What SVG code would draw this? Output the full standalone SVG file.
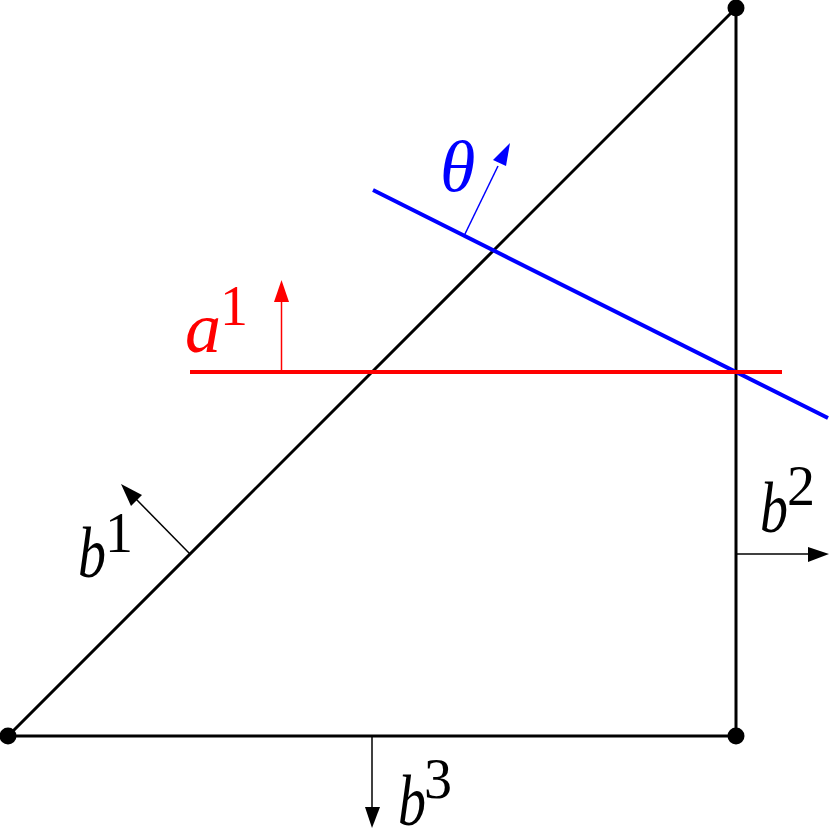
<svg xmlns="http://www.w3.org/2000/svg" width="830" height="830" viewBox="0 0 830 830">
<style>
.t{font-family:"Liberation Serif","Times New Roman",serif}
.v{font-style:italic;font-size:72px}
.n{font-size:56px}
.k{fill:#000}.r{fill:#f00}.u{fill:#00f}
.l{fill:none;stroke-linecap:butt}
</style>
<rect width="830" height="830" fill="#fff"/>
<g id="connectors" class="l">
<path d="M8 736L736 8V736H8Z" stroke="#000" stroke-width="3"/>
<path d="M373 190L828 418" stroke="#00f" stroke-width="4"/>
<path d="M190 372H782" stroke="#f00" stroke-width="4"/>
<path d="M464 236L498 166" stroke="#00f" stroke-width="1.5"/>
<path d="M281.500 372V298" stroke="#f00" stroke-width="1.5"/>
<path d="M190 554L136 499" stroke="#000" stroke-width="1.5"/>
<path d="M736 554H810" stroke="#000" stroke-width="1.5"/>
<path d="M372 736V810" stroke="#000" stroke-width="1.5"/>
</g>
<g id="arrowheads">
<polygon class="u" points="510,143 506,166 493,160"/>
<polygon class="r" points="281.500,280 289,302 274,302"/>
<polygon class="k" points="121,484 142,495 131,506"/>
<polygon class="k" points="829,554 808,547 808,562"/>
<polygon class="k" points="372,828 365,807 380,807"/>
</g>
<g id="node-top"><circle class="k" cx="736" cy="8" r="8.500"/></g>
<g id="node-left"><circle class="k" cx="8" cy="736" r="8.500"/></g>
<g id="node-right"><circle class="k" cx="736" cy="736" r="8.500"/></g>
<g id="label-theta"><text class="t v u" x="440" y="191">θ</text></g>
<g id="label-a1"><text class="t v r" x="185" y="352">a</text><text class="t n r" x="220" y="325">1</text></g>
<g id="label-b1"><text class="t v k" x="78" y="577" textLength="28" lengthAdjust="spacingAndGlyphs">b</text><text class="t n k" x="105" y="552">1</text></g>
<g id="label-b2"><text class="t v k" x="760" y="532" textLength="28" lengthAdjust="spacingAndGlyphs">b</text><text class="t n k" x="787" y="505">2</text></g>
<g id="label-b3"><text class="t v k" x="398" y="825" textLength="28" lengthAdjust="spacingAndGlyphs">b</text><text class="t n k" x="424" y="798">3</text></g>
</svg>
